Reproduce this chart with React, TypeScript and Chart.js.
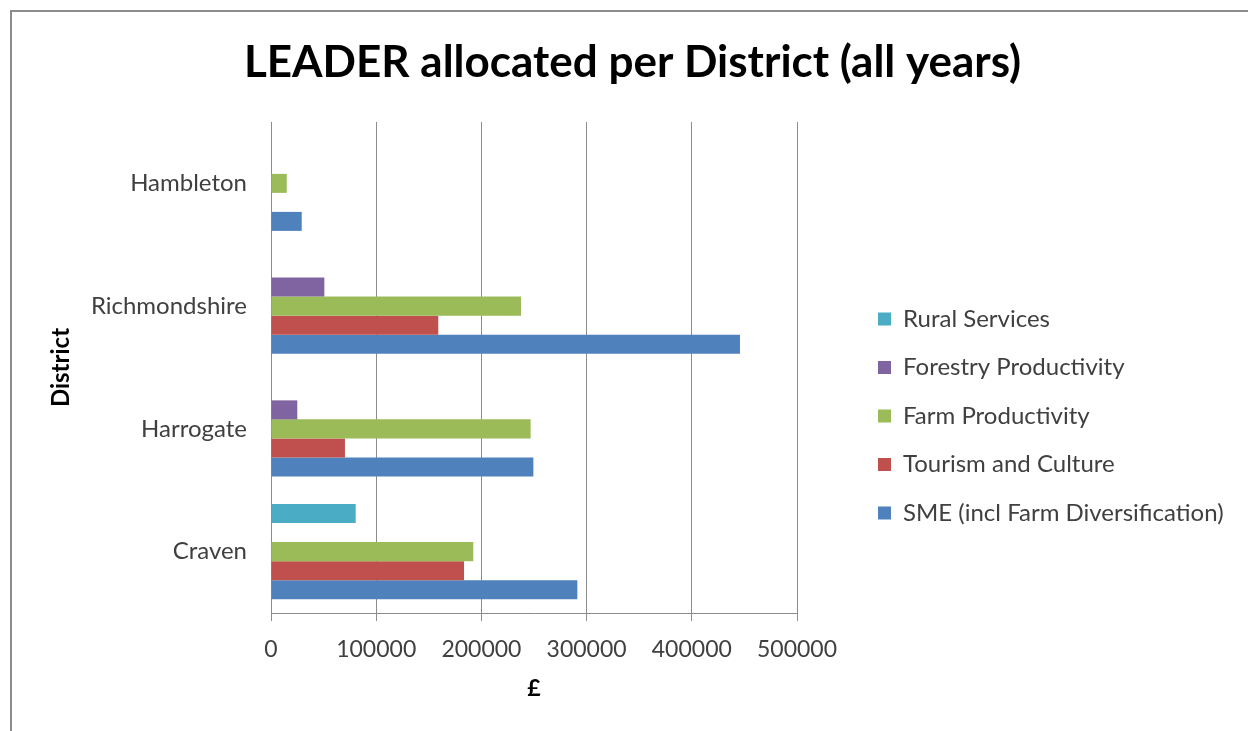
import React, { useEffect, useRef } from "react";
import { Chart, registerables } from "chart.js";

Chart.register(...registerables);

const titleText = "LEADER allocated per District (all years)";
const xAxisTitle = "£";
const yAxisTitle = "District";

const categories = ["Hambleton", "Richmondshire", "Harrogate", "Craven"];

const seriesNames = [
  "Rural Services",
  "Forestry Productivity",
  "Farm Productivity",
  "Tourism and Culture",
  "SME (incl Farm Diversification)",
];
const ruralServices = [null, null, null, 80500];
const forestryProductivity = [null, 50700, 25000, null];
const farmProductivity = [15000, 237700, 246800, 192300];
const tourismAndCulture = [null, 159000, 70300, 183500];
const smeInclFarmDiversification = [29200, 445800, 249400, 291200];
const seriesColors = ["#4BACC6", "#8064A2", "#9BBB59", "#C0504D", "#4F81BD"];

const xMin = 0;
const xMax = 500000;
const xStep = 100000;

const FONT = "Lato, 'Open Sans', sans-serif";

// legend box geometry
const LEGEND_WIDTH = 451;
const LEGEND_LEFT = 853.5;
const LEGEND_TOP = 282.5;

const legendPlacement = {
  id: "legendPlacement",
  beforeLayout(chart: any) {
    const lg = chart.legend;
    if (lg && !lg.__patched) {
      const orig = lg.update;
      lg.update = function (maxWidth: number, maxHeight: number, margins: any) {
        const r = orig.call(this, Math.max(maxWidth, 600), maxHeight, margins);
        this.width = LEGEND_WIDTH;
        return r;
      };
      lg.__patched = true;
    }
  },
  afterLayout(chart: any) {
    const lg = chart.legend;
    if (lg) {
      const h = lg.bottom - lg.top;
      lg.left = LEGEND_LEFT;
      lg.top = LEGEND_TOP;
      lg.bottom = LEGEND_TOP + h;
    }
  },
};

export default function App() {
  const canvasRef = useRef<HTMLCanvasElement | null>(null);

  useEffect(() => {
    const canvas = canvasRef.current;
    if (!canvas) return;
    const values = [
      ruralServices,
      forestryProductivity,
      farmProductivity,
      tourismAndCulture,
      smeInclFarmDiversification,
    ];
    const chart = new Chart(canvas, {
      type: "bar",
      data: {
        labels: categories,
        datasets: seriesNames.map((name, i) => ({
          label: name,
          data: values[i],
          backgroundColor: seriesColors[i],
          borderWidth: 0,
          categoryPercentage: 0.774,
          barPercentage: 1,
        })),
      },
      plugins: [legendPlacement],
      options: {
        indexAxis: "y",
        responsive: false,
        animation: false,
        layout: { padding: { left: 17, right: 0, top: 0, bottom: 23 } },
        plugins: {
          tooltip: { enabled: false },
          title: {
            display: true,
            text: titleText,
            color: "#000000",
            font: { family: FONT, size: 44, weight: "bold" },
            padding: { top: 36, bottom: 33.2 },
          },
          legend: {
            display: true,
            position: "right",
            align: "start",
            labels: {
              boxWidth: 13,
              boxHeight: 13,
              padding: 24.5,
              color: "#404040",
              font: { family: FONT, size: 24 },
            },
          },
        },
        scales: {
          x: {
            type: "linear",
            min: xMin,
            max: xMax,
            ticks: {
              stepSize: xStep,
              color: "#404040",
              font: { family: FONT, size: 23 },
              padding: 15,
              callback: (v: any) => String(v),
            },
            grid: { color: "#8c8c8c", lineWidth: 1, tickLength: 8, drawTicks: true },
            border: { display: true, color: "#8c8c8c" },
            title: {
              display: true,
              text: xAxisTitle,
              color: "#000000",
              font: { family: FONT, size: 23, weight: "bold" },
              padding: { top: 0, bottom: 6 },
            },
            afterFit: (s: any) => {
              s.height = 95;
            },
          },
          y: {
            type: "category",
            grid: { display: false },
            border: { display: true, color: "#8c8c8c" },
            ticks: {
              color: "#404040",
              font: { family: FONT, size: 24 },
              padding: 16,
            },
            title: {
              display: true,
              text: yAxisTitle,
              color: "#000000",
              font: { family: FONT, size: 24, weight: "bold" },
              padding: { top: 29.6, bottom: 0 },
            },
            afterFit: (s: any) => {
              s.width = 254;
            },
          },
        },
      },
    } as any);
    return () => chart.destroy();
  }, []);

  return (
    <div style={{ position: "absolute", left: 0, top: 0, width: 1248, height: 731, background: "#ffffff", overflow: "hidden" }}>
      <div
        style={{
          position: "absolute",
          left: 10,
          top: 10,
          width: 1250,
          height: 740,
          borderTop: "2px solid #8c8c8c",
          borderLeft: "2px solid #8c8c8c",
          boxSizing: "border-box",
        }}
      />
      <canvas ref={canvasRef} width={1248} height={731} style={{ position: "absolute", left: 0, top: 0 }} />
    </div>
  );
}
